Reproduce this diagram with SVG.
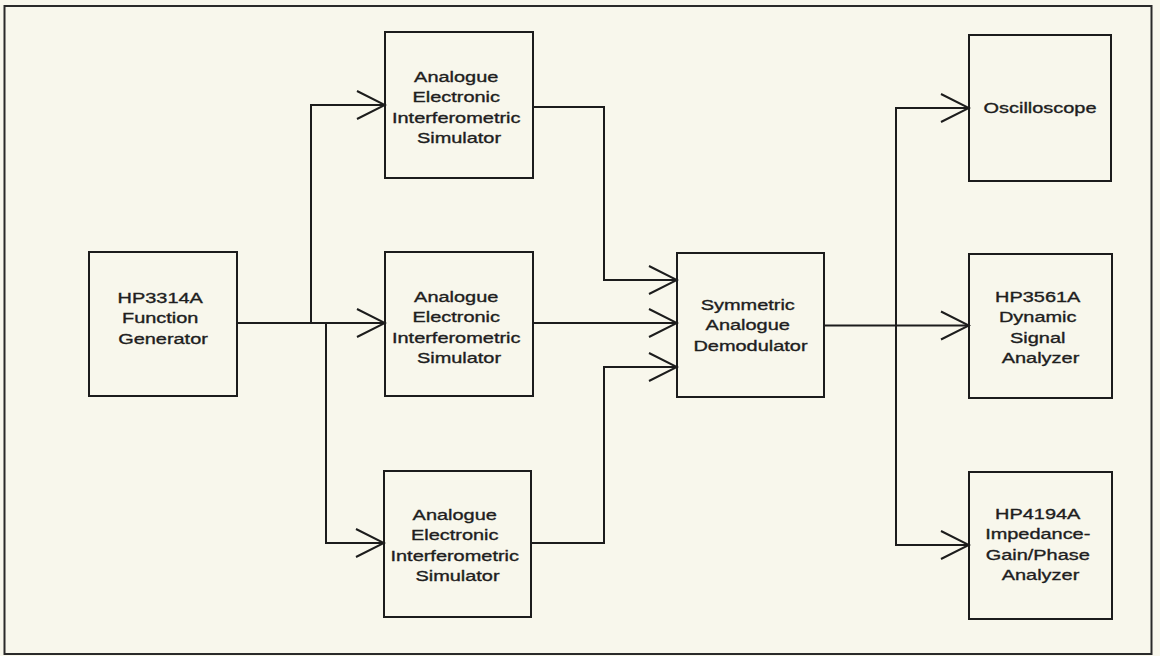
<svg xmlns="http://www.w3.org/2000/svg" width="1160" height="656" viewBox="0 0 1160 656">
  <style>
    .frame { fill: none; stroke: #2a2a2a; stroke-width: 2; }
    .box { fill: none; stroke: #1c1c1c; stroke-width: 2; }
    .wire { fill: none; stroke: #1c1c1c; stroke-width: 2; }
    .lbl { font-family: "Liberation Sans", Arial, sans-serif; font-size: 15px; fill: #1e1e1e; stroke: #1e1e1e; stroke-width: 0.35; text-anchor: middle; }
  </style>
  <defs>
    <marker id="chevron" viewBox="-30 -16 32 32" markerWidth="32" markerHeight="32" refX="0" refY="0" orient="auto" markerUnits="userSpaceOnUse">
      <path d="M-28,-14 L0,0 L-28,14" fill="none" stroke="#1c1c1c" stroke-width="2"/>
    </marker>
  </defs>

  <rect x="0" y="0" width="1160" height="656" fill="#f8f7ec"/>
  <rect class="frame" x="4.5" y="6" width="1147" height="648"/>

  <g id="connectors">
    <!-- generator fan-out -->
    <path class="wire" d="M237,323 L385,323" marker-end="url(#chevron)"/>
    <path class="wire" d="M311,323 L311,105 L385,105" marker-end="url(#chevron)"/>
    <path class="wire" d="M326,323 L326,543 L384,543" marker-end="url(#chevron)"/>
    <!-- simulators into demodulator -->
    <path class="wire" d="M533,107 L604,107 L604,280 L677,280" marker-end="url(#chevron)"/>
    <path class="wire" d="M533,323 L677,323" marker-end="url(#chevron)"/>
    <path class="wire" d="M531,543 L604,543 L604,367 L677,367" marker-end="url(#chevron)"/>
    <!-- demodulator to instruments -->
    <path class="wire" d="M824,325.5 L969,325.5" marker-end="url(#chevron)"/>
    <path class="wire" d="M896,325.5 L896,108 L969,108" marker-end="url(#chevron)"/>
    <path class="wire" d="M896,325.5 L896,545 L969,545" marker-end="url(#chevron)"/>
  </g>

  <g id="function-generator">
    <rect class="box" x="89" y="252" width="148" height="144"/>
    <text class="lbl" transform="translate(163 0) scale(1.33 1)">
      <tspan x="0" y="303">HP3314A</tspan>
      <tspan x="0" y="323.5">Function</tspan>
      <tspan x="0" y="344">Generator</tspan>
    </text>
  </g>

  <g id="simulator-1">
    <rect class="box" x="385" y="32" width="148" height="146"/>
    <text class="lbl" transform="translate(459 0) scale(1.33 1)">
      <tspan x="0" y="82">Analogue</tspan>
      <tspan x="0" y="102.5">Electronic</tspan>
      <tspan x="0" y="123">Interferometric</tspan>
      <tspan x="0" y="143.5">Simulator</tspan>
    </text>
  </g>

  <g id="simulator-2">
    <rect class="box" x="385" y="252" width="148" height="144"/>
    <text class="lbl" transform="translate(459 0) scale(1.33 1)">
      <tspan x="0" y="302">Analogue</tspan>
      <tspan x="0" y="322.5">Electronic</tspan>
      <tspan x="0" y="343">Interferometric</tspan>
      <tspan x="0" y="363.5">Simulator</tspan>
    </text>
  </g>

  <g id="simulator-3">
    <rect class="box" x="384" y="471" width="147" height="146"/>
    <text class="lbl" transform="translate(457.5 0) scale(1.33 1)">
      <tspan x="0" y="520">Analogue</tspan>
      <tspan x="0" y="540.5">Electronic</tspan>
      <tspan x="0" y="561">Interferometric</tspan>
      <tspan x="0" y="581.5">Simulator</tspan>
    </text>
  </g>

  <g id="demodulator">
    <rect class="box" x="677" y="253" width="147" height="144"/>
    <text class="lbl" transform="translate(750.5 0) scale(1.33 1)">
      <tspan x="0" y="310">Symmetric</tspan>
      <tspan x="0" y="330.5">Analogue</tspan>
      <tspan x="0" y="351">Demodulator</tspan>
    </text>
  </g>

  <g id="oscilloscope">
    <rect class="box" x="969" y="35" width="142" height="146"/>
    <text class="lbl" transform="translate(1040 0) scale(1.33 1)">
      <tspan x="0" y="113">Oscilloscope</tspan>
    </text>
  </g>

  <g id="signal-analyzer">
    <rect class="box" x="969" y="254" width="143" height="144"/>
    <text class="lbl" transform="translate(1040.5 0) scale(1.33 1)">
      <tspan x="0" y="302">HP3561A</tspan>
      <tspan x="0" y="322.5">Dynamic</tspan>
      <tspan x="0" y="343">Signal</tspan>
      <tspan x="0" y="363.5">Analyzer</tspan>
    </text>
  </g>

  <g id="impedance-analyzer">
    <rect class="box" x="969" y="472" width="143" height="147"/>
    <text class="lbl" transform="translate(1040.5 0) scale(1.33 1)">
      <tspan x="0" y="519">HP4194A</tspan>
      <tspan x="0" y="539.5">Impedance-</tspan>
      <tspan x="0" y="560">Gain/Phase</tspan>
      <tspan x="0" y="580.5">Analyzer</tspan>
    </text>
  </g>
</svg>
